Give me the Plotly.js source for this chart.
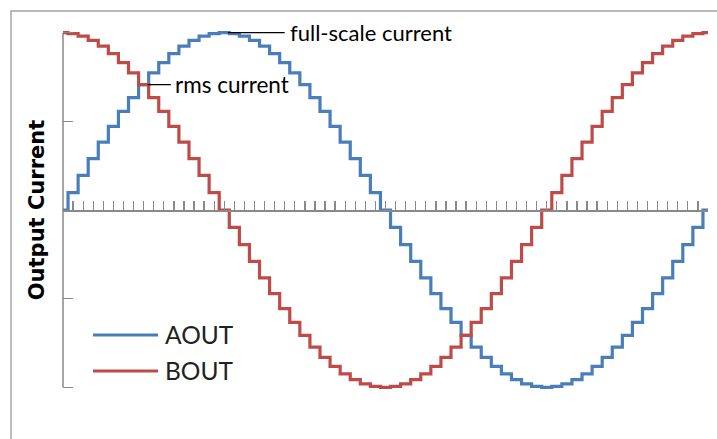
<!DOCTYPE html>
<html>
<head>
<meta charset="utf-8">
<script src="https://cdn.plot.ly/plotly-3.0.1.min.js"></script>
<style>
  html, body { margin: 0; padding: 0; background: #fff; }
  #chart { width: 717px; height: 439px; }
</style>
</head>
<body>
<div id="chart"></div>
<script>
// microstep index (one electrical period = 64 microsteps)
const steps = [0,1,2,3,4,5,6,7,8,9,10,11,12,13,14,15,16,17,18,19,20,21,22,23,24,25,26,27,28,29,30,31,32,
  33,34,35,36,37,38,39,40,41,42,43,44,45,46,47,48,49,50,51,52,53,54,55,56,57,58,59,60,61,62,63,64];

// normalised output current of winding A
const aout = [0, 0.098, 0.195, 0.290, 0.383, 0.471, 0.556, 0.634, 0.707, 0.773, 0.831, 0.882, 0.924, 0.957, 0.981, 0.995, 1,
  0.995, 0.981, 0.957, 0.924, 0.882, 0.831, 0.773, 0.707, 0.634, 0.556, 0.471, 0.383, 0.290, 0.195, 0.098, 0,
  -0.098, -0.195, -0.290, -0.383, -0.471, -0.556, -0.634, -0.707, -0.773, -0.831, -0.882, -0.924, -0.957, -0.981, -0.995, -1,
  -0.995, -0.981, -0.957, -0.924, -0.882, -0.831, -0.773, -0.707, -0.634, -0.556, -0.471, -0.383, -0.290, -0.195, -0.098, 0];

// normalised output current of winding B
const bout = [1, 0.995, 0.981, 0.957, 0.924, 0.882, 0.831, 0.773, 0.707, 0.634, 0.556, 0.471, 0.383, 0.290, 0.195, 0.098, 0,
  -0.098, -0.195, -0.290, -0.383, -0.471, -0.556, -0.634, -0.707, -0.773, -0.831, -0.882, -0.924, -0.957, -0.981, -0.995, -1,
  -0.995, -0.981, -0.957, -0.924, -0.882, -0.831, -0.773, -0.707, -0.634, -0.556, -0.471, -0.383, -0.290, -0.195, -0.098, 0,
  0.098, 0.195, 0.290, 0.383, 0.471, 0.556, 0.634, 0.707, 0.773, 0.831, 0.882, 0.924, 0.957, 0.981, 0.995, 1];

const seriesNames = ['AOUT', 'BOUT'];
const yTickVals = [-1, -0.5, 0.5, 1];
const rmsLevel = 0.707;
const fullScale = 1;
const rmsStep = 8;
const fullScaleStep = 16;

const blue = '#4a7ebb';
const red = '#be4b48';
const axisGray = '#898989';
const fontFam = 'Lato, "Open Sans", sans-serif';

const traces = [
  { x: steps, y: aout, name: seriesNames[0], type: 'scatter', mode: 'lines',
    line: { color: blue, width: 3.2, shape: 'hvh' }, showlegend: false, hoverinfo: 'skip' },
  { x: steps, y: bout, name: seriesNames[1], type: 'scatter', mode: 'lines',
    line: { color: red, width: 3.2, shape: 'hvh' }, showlegend: false, hoverinfo: 'skip' }
];

const layout = {
  width: 717, height: 439,
  margin: { l: 63, r: 9, t: 30, b: 49 },
  paper_bgcolor: '#fff', plot_bgcolor: '#fff',
  showlegend: false,
  xaxis: {
    range: [0, 64], tick0: 0, dtick: 1,
    anchor: 'free', position: 0.5,
    ticks: 'inside', ticklen: 9, tickwidth: 1.3, tickcolor: axisGray,
    showline: true, linecolor: axisGray, linewidth: 1.5,
    showticklabels: false, showgrid: false, zeroline: false, fixedrange: true
  },
  yaxis: {
    range: [-1.015, 1.015],
    tickvals: yTickVals,
    ticks: 'inside', ticklen: 10, tickwidth: 1.5, tickcolor: axisGray,
    showline: false, showticklabels: false, showgrid: false, zeroline: false,
    title: { text: 'Output Current', font: { family: '"DejaVu Sans", sans-serif', size: 21, color: '#000', weight: 'bold' }, standoff: 11 },
    fixedrange: true
  },
  shapes: [
    // chart area border (runs off the right and bottom edges)
    { type: 'rect', xref: 'paper', yref: 'paper', x0: -0.0806, x1: 1.03, y0: -0.2, y1: 1.0528,
      line: { color: '#a5a5a5', width: 1.5 }, fillcolor: 'rgba(0,0,0,0)', layer: 'below' },
    // vertical axis line
    { type: 'line', xref: 'paper', yref: 'y', x0: 0, x1: 0, y0: -1, y1: 1,
      line: { color: axisGray, width: 1.5 }, layer: 'below' },
    // leader line: full-scale current
    { type: 'line', xref: 'x', yref: 'y', x0: fullScaleStep + 0.35, x1: fullScaleStep + 6, y0: fullScale, y1: fullScale,
      line: { color: '#000', width: 1.3 } },
    // leader line: rms current
    { type: 'line', xref: 'x', yref: 'y', x0: rmsStep + 0.4, x1: rmsStep + 2.7, y0: rmsLevel, y1: rmsLevel,
      line: { color: '#000', width: 1.3 } },
    // legend keys
    { type: 'line', xref: 'paper', yref: 'paper', x0: 0.0465, x1: 0.1473, y0: 0.1528, y1: 0.1528,
      line: { color: blue, width: 3.2 } },
    { type: 'line', xref: 'paper', yref: 'paper', x0: 0.0465, x1: 0.1473, y0: 0.0528, y1: 0.0528,
      line: { color: red, width: 3.2 } }
  ],
  annotations: [
    { xref: 'x', yref: 'y', x: fullScaleStep + 6.3, y: fullScale, xanchor: 'left', yanchor: 'middle',
      text: 'full-scale current', showarrow: false, font: { family: fontFam, size: 22, color: '#000' } },
    { xref: 'x', yref: 'y', x: rmsStep + 2.95, y: rmsLevel, xanchor: 'left', yanchor: 'middle',
      text: 'rms current', showarrow: false, font: { family: fontFam, size: 22.5, color: '#000' } },
    { xref: 'paper', yref: 'paper', x: 0.1545, y: 0.1528, xanchor: 'left', yanchor: 'middle',
      text: seriesNames[0], showarrow: false, font: { family: fontFam, size: 24.5, color: '#222' } },
    { xref: 'paper', yref: 'paper', x: 0.1545, y: 0.0528, xanchor: 'left', yanchor: 'middle',
      text: seriesNames[1], showarrow: false, font: { family: fontFam, size: 24.5, color: '#222' } }
  ]
};

Plotly.newPlot('chart', traces, layout, { staticPlot: true, displayModeBar: false });
</script>
</body>
</html>
